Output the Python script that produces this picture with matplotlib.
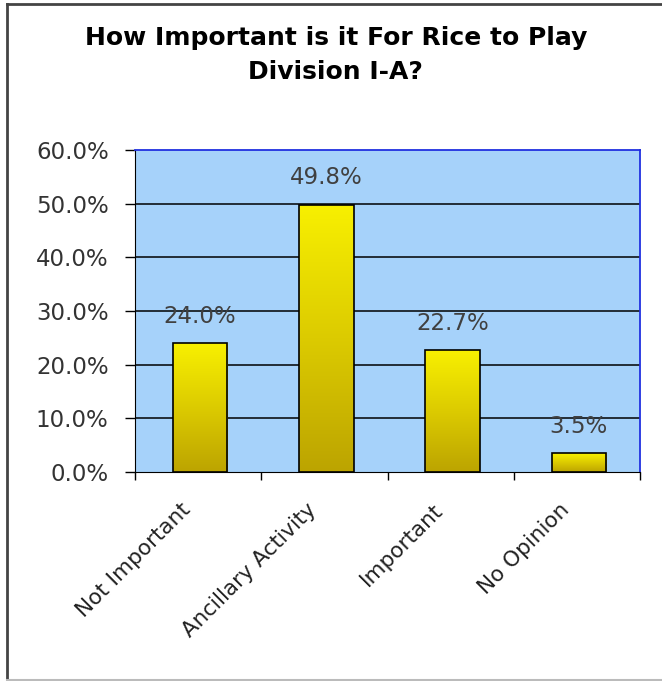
import numpy as np
import matplotlib.pyplot as plt
from matplotlib.colors import LinearSegmentedColormap
from matplotlib.transforms import ScaledTranslation

plt.rcParams['font.family'] = ['DejaVu Sans']

categories = ["Not Important", "Ancillary Activity", "Important", "No Opinion"]
values = [24.0, 49.8, 22.7, 3.5]
yticks = [0, 10, 20, 30, 40, 50, 60]

fig = plt.figure(figsize=(6.62, 6.81), dpi=100)
# frame around the chart (top and left dark, bottom light)
fig.add_artist(plt.Line2D([0.011, 1.0], [0.994, 0.994], transform=fig.transFigure, color="#444444", lw=2))
fig.add_artist(plt.Line2D([0.011, 0.011], [0.0, 0.994], transform=fig.transFigure, color="#444444", lw=2))
fig.add_artist(plt.Line2D([0.011, 1.0], [0.002, 0.002], transform=fig.transFigure, color="#bbbbbb", lw=1.5))

ax = fig.add_axes([0.204, 0.307, 0.763, 0.473])
ax.set_facecolor("#a6d2fa")

x = np.arange(len(categories))

for y in yticks[1:-1]:
    ax.axhline(y, color="black", lw=1.1, zorder=1)

cmap = LinearSegmentedColormap.from_list("bar", ["#bca400", "#dccb00", "#f8f000"])
grad = np.linspace(0, 1, 256).reshape(-1, 1)
bars = ax.bar(x + 0.015, values, width=0.43, facecolor="none", edgecolor="black", lw=1.2, zorder=3)
for b in bars:
    im = ax.imshow(grad, cmap=cmap, aspect="auto", origin="lower",
                   extent=[b.get_x(), b.get_x() + b.get_width(), 0, b.get_height()], zorder=2)
    im.set_clip_path(b)
ax.set_xlim(-0.5, len(categories) - 0.5)
ax.set_ylim(0, 60)

for xi, v in zip(x, values):
    ax.text(xi + 0.015, v + 5.0, f"{v:.1f}%", ha="center", va="center", fontsize=16.5, color="#404040")

ax.set_yticks(yticks)
ax.set_yticklabels([f"{t:.1f}%" for t in yticks], fontsize=16.5, color="#333333")
ax.set_xticks(x)
ax.set_xticklabels(categories, rotation=45, ha="right", rotation_mode="anchor", fontsize=15.5, color="#222222")
ax.tick_params(axis="x", length=0, pad=20)
for lab in ax.get_xticklabels():
    lab.set_transform(lab.get_transform() + ScaledTranslation(-18 / 100, 0, fig.dpi_scale_trans))
ax.set_xticks(np.arange(-0.5, len(categories), 1.0), minor=True)
ax.tick_params(axis="x", which="minor", length=6, direction="out", width=1)
ax.tick_params(axis="y", length=7, direction="out", width=1, pad=12)

for side in ["left", "bottom"]:
    ax.spines[side].set_color("black")
for side in ["top", "right"]:
    ax.spines[side].set_color("#2030e0")
    ax.spines[side].set_linewidth(1.3)

fig.text(0.508, 0.944, "How Important is it For Rice to Play", ha="center", va="center",
         fontsize=18, fontweight="bold")
fig.text(0.506, 0.894, "Division I-A?", ha="center", va="center",
         fontsize=18, fontweight="bold")

fig.savefig("out.png", dpi=100)
